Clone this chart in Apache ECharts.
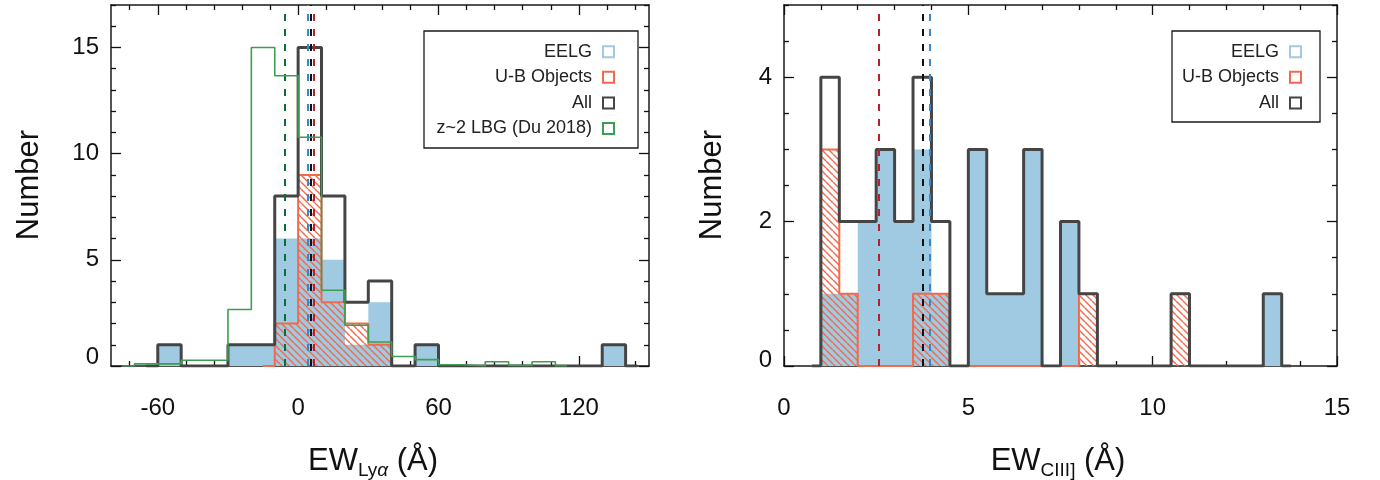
<!DOCTYPE html>
<html><head><meta charset="utf-8">
<script src="https://cdn.jsdelivr.net/npm/echarts@6/dist/echarts.min.js"></script>
<style>html,body{margin:0;padding:0;background:#fff}#c{width:1380px;height:480px}</style>
</head><body><div id="c"></div>
<script>
const FONT = '"Liberation Sans", Arial, Helvetica, sans-serif';

// ---------- Left panel: EW(Lya) histograms (10 A bins) ----------
const lyaBinWidth = 10;
const lyaAllStart = -60;
const lyaAll  = [1,0,0,1,1,8,15,8,3,4,0,1,0,0,0,0,0,0,0,1];
const lyaEELG = [1,0,0,1,1,6,6,5,1,3,0,1,0,0,0,0,0,0,0,1];
const lyaUBStart = -10;
const lyaUB = [2,9,3,2,1];
const lyaLBGStart = -70;
const lyaLBG = [0.1,0.1,0.27,0.27,2.66,15.0,13.67,10.77,3.57,1.92,1.13,0.45,0.3,0.06,0,0.2,0.03,0.2];
const lyaMedLBG = -5.9, lyaMedEELG = 4.3, lyaMedAll = 5.4, lyaMedUB = 6.6;
const lyaXTicks = [-60, 0, 60, 120];
const lyaYTicks = [0, 5, 10, 15];

// ---------- Right panel: EW(CIII]) histograms (0.5 A bins) ----------
const ciiiBinWidth = 0.5;
const ciiiStart = 1.0;
const ciiiAll  = [4,2,2,3,2,4,2,0,3,1,1,3,0,2,1,0,0,0,0,1,0,0,0,0,1];
const ciiiEELG = [1,1,2,3,2,3,1,0,3,1,1,3,0,2,0,0,0,0,0,0,0,0,0,0,1];
const ciiiUB   = [3,1,0,0,0,1,1,0,0,0,0,0,0,0,1,0,0,0,0,1];
const ciiiMedUB = 2.57, ciiiMedAll = 3.77, ciiiMedEELG = 3.95;
const ciiiXTicks = [0, 5, 10, 15];
const ciiiYTicks = [0, 2, 4];

const C_BLUE = '#9fcae1', C_RED = '#f4694b', C_BLACK = '#454545', C_GREEN = '#3c9e52';

function minorTicks(lo, hi, step, majors) {
  const out = [];
  for (let v = lo; v <= hi + 1e-9; v += step) {
    const r = Math.round(v * 1000) / 1000;
    if (!majors.some(m => Math.abs(m - r) < 1e-6)) out.push(r);
  }
  return out;
}
const lyaXMinor = minorTicks(-72, 150, 12, lyaXTicks);
const lyaYMinor = minorTicks(0, 17, 1, lyaYTicks);
const ciiiXMinor = minorTicks(0, 15, 1, ciiiXTicks);
const ciiiYMinor = minorTicks(0, 5, 0.5, ciiiYTicks);

function stepPoints(start, w, counts) {
  const pts = [[start - w / 2, 0]];
  counts.forEach((c, i) => pts.push([start + i * w, c]));
  const end = start + counts.length * w;
  pts.push([end, 0]);
  pts.push([end + w / 2, 0]);
  return pts;
}

function makeHatch(color) {
  const s = 7, cv = document.createElement('canvas');
  cv.width = s; cv.height = s;
  const ctx = cv.getContext('2d');
  ctx.strokeStyle = color; ctx.lineWidth = 1.4;
  for (const k of [-1, 0, 1]) {
    ctx.beginPath(); ctx.moveTo(k * s, 0); ctx.lineTo(k * s + s, s); ctx.stroke();
  }
  return cv;
}
const hatch = { image: makeHatch(C_RED), repeat: 'repeat' };

const gridL = { left: 111, top: 5, width: 538, height: 361 };
const gridR = { left: 784, top: 5, width: 553, height: 361 };

const frameLine = { show: true, onZero: false, lineStyle: { color: '#1a1a1a', width: 1.5 } };
const noLine = { show: false, onZero: false };
const tickStyle = { color: '#111', width: 1.3 };

function xAx(grid, pos, min, max, ticks, len, labels, line) {
  return {
    type: 'value', gridIndex: grid, position: pos, min, max,
    axisLine: line ? frameLine : noLine,
    axisTick: { show: true, inside: true, length: len, customValues: ticks, lineStyle: tickStyle },
    axisLabel: labels ? { show: true, customValues: ticks, fontSize: 24, fontFamily: FONT, color: '#111', margin: 30 } : { show: false },
    splitLine: { show: false }, minorTick: { show: false }
  };
}
function yAx(grid, pos, min, max, ticks, len, labels, line, zeroPad) {
  return {
    type: 'value', gridIndex: grid, position: pos, min, max,
    axisLine: line ? frameLine : noLine,
    axisTick: { show: true, inside: true, length: len, customValues: ticks, lineStyle: tickStyle },
    axisLabel: labels ? {
      show: true, customValues: ticks, fontSize: 24, fontFamily: FONT, color: '#111', margin: 12,
      formatter: v => (v === 0 ? '{z|0}' : String(v)),
      rich: { z: { fontSize: 24, fontFamily: FONT, color: '#111', padding: [0, 0, zeroPad, 0] } }
    } : { show: false },
    splitLine: { show: false }, minorTick: { show: false }
  };
}

const grids = [gridL, gridL, gridR, gridR].map(g => Object.assign({ containLabel: false, outerBoundsMode: 'none' }, g));

const xAxes = [
  xAx(0, 'bottom', -80, 150, lyaXTicks, 10, true, true),
  xAx(0, 'top', -80, 150, lyaXTicks, 10, false, true),
  xAx(1, 'bottom', -80, 150, lyaXMinor, 5, false, false),
  xAx(1, 'top', -80, 150, lyaXMinor, 5, false, false),
  xAx(2, 'bottom', 0, 15, ciiiXTicks, 10, true, true),
  xAx(2, 'top', 0, 15, ciiiXTicks, 10, false, true),
  xAx(3, 'bottom', 0, 15, ciiiXMinor, 5, false, false),
  xAx(3, 'top', 0, 15, ciiiXMinor, 5, false, false)
];
const yAxes = [
  yAx(0, 'left', 0, 17, lyaYTicks, 10, true, true, 18),
  yAx(0, 'right', 0, 17, lyaYTicks, 10, false, true, 0),
  yAx(1, 'left', 0, 17, lyaYMinor, 5, false, false, 0),
  yAx(1, 'right', 0, 17, lyaYMinor, 5, false, false, 0),
  yAx(2, 'left', 0, 5, ciiiYTicks, 10, true, true, 12),
  yAx(2, 'right', 0, 5, ciiiYTicks, 10, false, true, 0),
  yAx(3, 'left', 0, 5, ciiiYMinor, 5, false, false, 0),
  yAx(3, 'right', 0, 5, ciiiYMinor, 5, false, false, 0)
];

function fillSeries(ax, pts, color) {
  return { type: 'line', xAxisIndex: ax, yAxisIndex: ax, data: pts, step: 'end', symbol: 'none', showSymbol: false,
    lineStyle: { width: 0, opacity: 0 }, areaStyle: { color, opacity: 1 }, silent: true, z: 2 };
}
function hatchSeries(ax, pts) {
  return { type: 'line', xAxisIndex: ax, yAxisIndex: ax, data: pts, step: 'end', symbol: 'none', showSymbol: false,
    lineStyle: { width: 2, color: C_RED }, areaStyle: { color: hatch, opacity: 1 }, silent: true, z: 3 };
}
function outlineSeries(ax, pts, color, width, z) {
  return { type: 'line', xAxisIndex: ax, yAxisIndex: ax, data: pts, step: 'end', symbol: 'none', showSymbol: false,
    lineStyle: { width, color }, silent: true, z };
}
function medianSeries(ax, meds) {
  return { type: 'line', xAxisIndex: ax, yAxisIndex: ax, data: [], silent: true, z: 8,
    markLine: { silent: true, symbol: ['none', 'none'], animation: false, label: { show: false },
      data: meds.map(([v, c]) => ({ xAxis: v, lineStyle: { color: c, width: 2, type: [7, 8] } })) } };
}

const series = [
  fillSeries(0, stepPoints(lyaAllStart, lyaBinWidth, lyaEELG), C_BLUE),
  hatchSeries(0, stepPoints(lyaUBStart, lyaBinWidth, lyaUB)),
  outlineSeries(0, stepPoints(lyaAllStart, lyaBinWidth, lyaAll), C_BLACK, 3, 4),
  outlineSeries(0, stepPoints(lyaLBGStart, lyaBinWidth, lyaLBG), C_GREEN, 1.6, 5),
  medianSeries(0, [[lyaMedLBG, '#0b6e3a'], [lyaMedEELG, '#3b86c6'], [lyaMedAll, '#111111'], [lyaMedUB, '#b51f2e']]),

  fillSeries(4, stepPoints(ciiiStart, ciiiBinWidth, ciiiEELG), C_BLUE),
  hatchSeries(4, stepPoints(ciiiStart, ciiiBinWidth, ciiiUB)),
  outlineSeries(4, stepPoints(ciiiStart, ciiiBinWidth, ciiiAll), C_BLACK, 3, 4),
  medianSeries(4, [[ciiiMedUB, '#b51f2e'], [ciiiMedAll, '#111111'], [ciiiMedEELG, '#3b86c6']])
];

function legend(box, textRight, sqLeft, rows) {
  const els = [{ type: 'rect', shape: box, style: { fill: '#fff', stroke: '#1a1a1a', lineWidth: 1.3 } }];
  rows.forEach(([label, color], i) => {
    const cy = 51.7 + i * 25.6;
    els.push({ type: 'text', x: textRight, y: cy, style: { text: label, fontSize: 18, fontFamily: FONT, fill: '#222',
      align: 'right', verticalAlign: 'middle', textAlign: 'right', textVerticalAlign: 'middle' } });
    els.push({ type: 'rect', shape: { x: sqLeft, y: cy - 5.5, width: 11, height: 11 }, style: { fill: 'none', stroke: color, lineWidth: 2 } });
  });
  return { type: 'group', z: 100, children: els };
}

function xTitle(cx, sub, italicTail) {
  const rich = {
    a: { fontSize: 31, fontFamily: FONT, fill: '#111', color: '#111', lineHeight: 31, verticalAlign: 'top' },
    s: { fontSize: 19, fontFamily: FONT, fill: '#111', color: '#111', lineHeight: 19, padding: [16, 0, 0, 0], verticalAlign: 'top' },
    g: { fontSize: 19, fontFamily: FONT, fontStyle: 'italic', fill: '#111', color: '#111', lineHeight: 19, padding: [16, 0, 0, 0], verticalAlign: 'top' }
  };
  const text = '{a|EW}{s|' + sub + '}' + (italicTail ? '{g|' + italicTail + '}' : '') + '{a| (Å)}';
  return { type: 'text', x: cx, y: 461, z: 100, style: { text, rich, align: 'center', verticalAlign: 'middle', textAlign: 'center', textVerticalAlign: 'middle' } };
}
function yTitle(cx) {
  return { type: 'text', x: cx, y: 185, rotation: Math.PI / 2, z: 100,
    style: { text: 'Number', fontSize: 31, fontFamily: FONT, fill: '#111', align: 'center', verticalAlign: 'middle', textAlign: 'center', textVerticalAlign: 'middle' } };
}

const chart = echarts.init(document.getElementById('c'), null, { renderer: 'canvas' });
chart.setOption({
  animation: false,
  backgroundColor: '#fff',
  grid: grids,
  xAxis: xAxes,
  yAxis: yAxes,
  series,
  graphic: [
    legend({ x: 424, y: 31, width: 214, height: 117 }, 592, 603,
      [['EELG', C_BLUE], ['U-B Objects', C_RED], ['All', C_BLACK], ['z~2 LBG (Du 2018)', C_GREEN]]),
    legend({ x: 1172, y: 31, width: 148, height: 91 }, 1279, 1290,
      [['EELG', C_BLUE], ['U-B Objects', C_RED], ['All', C_BLACK]]),
    xTitle(373, 'Ly', 'α'),
    xTitle(1058, 'CIII]', ''),
    yTitle(29),
    yTitle(712)
  ]
});
</script></body></html>
